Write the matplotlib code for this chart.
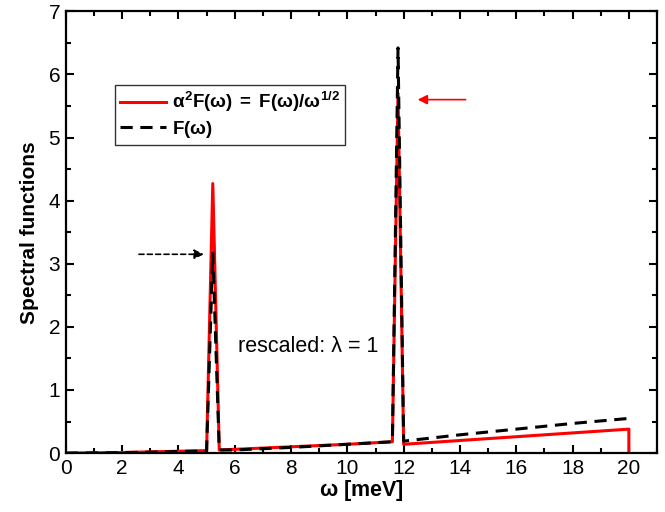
import matplotlib
matplotlib.use("Agg")
import matplotlib.pyplot as plt
from matplotlib.ticker import MultipleLocator

plt.rcParams['font.family'] = ['Liberation Sans', 'DejaVu Sans']
plt.rcParams['mathtext.fontset'] = 'custom'
plt.rcParams['mathtext.rm'] = 'Liberation Sans:bold'
plt.rcParams['mathtext.it'] = 'Liberation Sans:bold'
plt.rcParams['mathtext.bf'] = 'Liberation Sans:bold'

# alpha^2 F(omega), rescaled so that lambda = 1
omega_a2f = [0.0, 1.0, 2.0, 3.0, 4.0, 5.0, 5.22, 5.45, 6.0, 8.0, 10.0, 11.6, 11.8, 12.0, 14.0, 16.0, 18.0, 20.0, 20.0]
a2f = [0.0, 0.005, 0.01, 0.02, 0.03, 0.04, 4.27, 0.05, 0.06, 0.10, 0.14, 0.18, 5.70, 0.14, 0.20, 0.26, 0.32, 0.38, 0.0]

# phonon density of states F(omega)
omega_f = [0.0, 1.0, 2.0, 3.0, 4.0, 5.0, 5.22, 5.45, 6.0, 8.0, 10.0, 11.6, 11.8, 12.0, 14.0, 16.0, 18.0, 20.0]
f = [0.0, 0.003, 0.008, 0.015, 0.025, 0.035, 3.17, 0.05, 0.05, 0.09, 0.14, 0.18, 6.42, 0.19, 0.29, 0.38, 0.47, 0.55]

fig = plt.figure(figsize=(6.65, 5.12), dpi=100)
ax = fig.add_axes([0.099, 0.115, 0.889, 0.863])

ax.plot(omega_a2f, a2f, color='#ff0000', lw=2.2,
        label=r'$\alpha^{2}F(\omega)\;=\;F(\omega)/\omega^{1/2}$')
ax.plot(omega_f, f, color='black', lw=2.2, ls=(0, (4, 2.5)),
        label=r'$F(\omega)$')

ax.set_xlim(0, 21)
ax.set_ylim(0, 7)
ax.xaxis.set_major_locator(MultipleLocator(2))
ax.xaxis.set_minor_locator(MultipleLocator(1))
ax.yaxis.set_major_locator(MultipleLocator(1))
ax.yaxis.set_minor_locator(MultipleLocator(0.5))
ax.tick_params(which='both', direction='in', top=True, right=True, width=1.5)
ax.tick_params(which='major', length=6, labelsize=15, pad=4)
ax.tick_params(which='minor', length=3.5)
for sp in ax.spines.values():
    sp.set_linewidth(1.6)

ax.set_xlabel(r'$\omega$ [meV]', fontsize=15.5, fontweight='bold', labelpad=0)
ax.set_ylabel('Spectral functions', fontsize=15, fontweight='bold', labelpad=7)

leg = ax.legend(loc='upper left', bbox_to_anchor=(0.083, 0.832), fontsize=13.5,
                frameon=True, fancybox=False, edgecolor='black', handlelength=2.5,
                handletextpad=0.3, borderpad=0.25, labelspacing=0.25, borderaxespad=0)
leg.get_frame().set_linewidth(1.0)

ax.text(6.1, 1.6, 'rescaled: \u03bb = 1', fontsize=15.5)

ax.annotate('', xy=(5.0, 3.15), xytext=(2.5, 3.15),
            arrowprops=dict(arrowstyle='-|>', color='black', lw=1.2, ls=(0, (3, 2)),
                            mutation_scale=14))
ax.annotate('', xy=(12.4, 5.6), xytext=(14.3, 5.6),
            arrowprops=dict(arrowstyle='-|>', color='#ff0000', lw=1.2, mutation_scale=14))

fig.savefig('out.png', dpi=100)
